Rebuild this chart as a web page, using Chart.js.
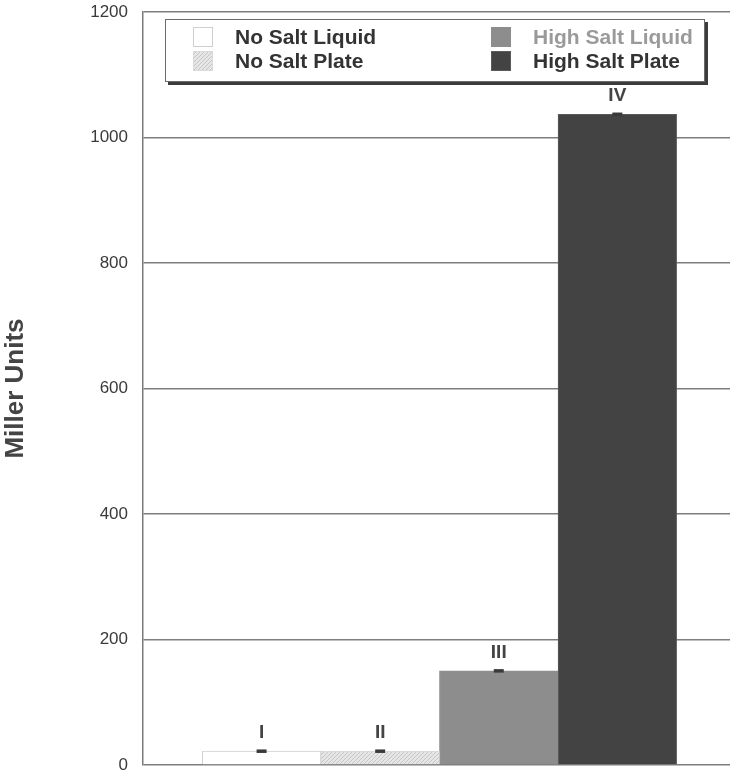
<!DOCTYPE html>
<html>
<head>
<meta charset="utf-8">
<script src="https://cdn.jsdelivr.net/npm/chart.js@4/dist/chart.umd.min.js"></script>
<style>
  html, body { margin: 0; padding: 0; background: #fff; }
  #wrap { width: 730px; height: 776px; }
</style>
</head>
<body>
<div id="wrap"><canvas id="c" width="730" height="776"></canvas></div>
<script>
// Series and their readings
const categories = ['No Salt Liquid', 'No Salt Plate', 'High Salt Liquid', 'High Salt Plate'];
const barLabels = ['I', 'II', 'III', 'IV'];
const values = [22, 22, 150, 1037];
const errors = [2, 2, 2, 2];
const yTicks = [0, 200, 400, 600, 800, 1000, 1200];

const FONT = '"Liberation Sans", Arial, Helvetica, sans-serif';

// fine hatch used for the plate-grown, no-salt condition
function hatchPattern() {
  const p = document.createElement('canvas');
  p.width = 4; p.height = 4;
  const g = p.getContext('2d');
  g.fillStyle = '#e6e6e6';
  g.fillRect(0, 0, 4, 4);
  g.strokeStyle = '#c6c6c6';
  g.lineWidth = 1;
  g.beginPath();
  g.moveTo(0, 4); g.lineTo(4, 0);
  g.moveTo(-1, 1); g.lineTo(1, -1);
  g.moveTo(3, 5); g.lineTo(5, 3);
  g.stroke();
  return document.getElementById('c').getContext('2d').createPattern(p, 'repeat');
}
const hatch = hatchPattern();

const fills = ['#ffffff', hatch, '#8d8d8d', '#434343'];
const borders = ['#cfcfcf', '#dadada', '#8d8d8d', '#5a5a5a'];
const legendText = ['#333333', '#333333', '#9a9a9a', '#333333'];

const datasets = categories.map((name, i) => ({
  label: name,
  data: [{ x: i + 1, y: values[i] }],
  backgroundColor: fills[i],
  borderColor: borders[i],
  borderWidth: 1,
  barPercentage: 1,
  categoryPercentage: 1,
  grouped: false
}));

// error caps and roman-numeral tags above each bar
const barMarks = {
  id: 'barMarks',
  afterDatasetsDraw(chart) {
    const ctx = chart.ctx;
    const y = chart.scales.y;
    ctx.save();
    chart.data.datasets.forEach((ds, i) => {
      const meta = chart.getDatasetMeta(i);
      const bar = meta.data[0];
      if (!bar) return;
      const cx = bar.x;
      const top = y.getPixelForValue(values[i] + errors[i]);
      const bot = y.getPixelForValue(values[i] - errors[i]);
      ctx.fillStyle = '#3a3a3a';
      ctx.fillRect(cx - 5, top - 0.5, 10, Math.max(3, bot - top + 1));
      ctx.font = 'bold 19px ' + FONT;
      ctx.textAlign = 'center';
      ctx.textBaseline = 'alphabetic';
      ctx.fillStyle = '#444444';
      ctx.fillText(barLabels[i], cx, top - 12);
    });
    ctx.restore();
  }
};

// two-column boxed legend with a drop shadow
const boxLegend = {
  id: 'boxLegend',
  afterDraw(chart) {
    const ctx = chart.ctx;
    const bx = 165, by = 19, bw = 540, bh = 63;
    ctx.save();
    ctx.fillStyle = '#3c3c3c';
    ctx.fillRect(bx + 3, by + 3, bw, bh);
    ctx.fillStyle = '#ffffff';
    ctx.fillRect(bx, by, bw, bh);
    ctx.strokeStyle = '#6a6a6a';
    ctx.lineWidth = 1;
    ctx.strokeRect(bx + 0.5, by + 0.5, bw - 1, bh - 1);

    const cols = [{ sx: 193, tx: 235 }, { sx: 491, tx: 533 }];
    const rows = [37, 61];
    const order = [[0, 0, 0], [1, 0, 1], [2, 1, 0], [3, 1, 1]];
    ctx.font = 'bold 21px ' + FONT;
    ctx.textAlign = 'left';
    ctx.textBaseline = 'middle';
    order.forEach(([i, c, r]) => {
      const sx = cols[c].sx, cy = rows[r];
      ctx.fillStyle = fills[i];
      ctx.fillRect(sx, cy - 10, 20, 20);
      ctx.strokeStyle = borders[i];
      ctx.strokeRect(sx + 0.5, cy - 9.5, 19, 19);
      ctx.fillStyle = legendText[i];
      ctx.fillText(chart.data.datasets[i].label, cols[c].tx, cy + 1);
    });
    ctx.restore();
  }
};

new Chart(document.getElementById('c'), {
  type: 'bar',
  data: { datasets },
  plugins: [barMarks, boxLegend],
  options: {
    responsive: false,
    animation: false,
    layout: { padding: { top: 12, bottom: 11, left: 0, right: 0 } },
    plugins: { legend: { display: false }, tooltip: { enabled: false } },
    scales: {
      x: {
        type: 'linear',
        display: false,
        offset: false,
        grid: { offset: false },
        min: 0,
        max: 4.95,
        afterBuildTicks(scale) {
          scale.ticks = barLabels.map((_, i) => ({ value: i + 1 }));
        }
      },
      y: {
        min: 0,
        max: 1200,
        afterFit(scale) { scale.width = 143; },
        afterBuildTicks(scale) {
          scale.ticks = yTicks.map(v => ({ value: v }));
        },
        border: { display: true, color: '#7a7a7a', width: 1.5 },
        grid: {
          color: '#7e7e7e',
          lineWidth: 1.5,
          drawTicks: true,
          tickLength: 15,
          tickColor: 'rgba(0,0,0,0)'
        },
        ticks: {
          padding: 0,
          color: '#3a3a3a',
          font: { family: FONT, size: 17 },
          callback: v => String(v)
        },
        title: {
          display: true,
          text: 'Miller Units',
          color: '#444444',
          font: { family: FONT, size: 26, weight: 'bold' },
          padding: { top: 0, bottom: 0 }
        }
      }
    }
  }
});
</script>
</body>
</html>
